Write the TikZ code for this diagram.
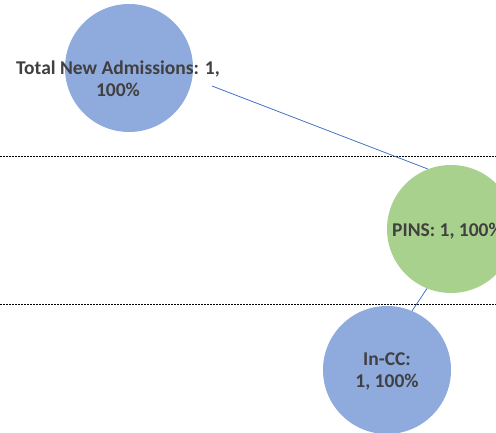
\documentclass[tikz,border=0pt]{standalone}
\usepackage{fontspec}
\setmainfont{Carlito}
\definecolor{bubbleblue}{HTML}{8FAADC}
\definecolor{bubblegreen}{HTML}{A9D18E}
\definecolor{leader}{HTML}{4472C4}
\definecolor{labeltext}{HTML}{404040}
\begin{document}
\begin{tikzpicture}[x=1pt,y=-1pt,
  bubble/.style={circle,minimum size=128pt,inner sep=0pt,draw=none},
  lbl/.style={text=labeltext,font=\fontsize{19.5}{22}\selectfont\bfseries,align=center,inner sep=0pt},
  leaderline/.style={draw=leader,line width=0.8pt},
  divider/.style={draw=black,line width=0.7pt,dash pattern=on 2pt off 1pt}]
\useasboundingbox (0,0) rectangle (496,433);
\clip (0,0) rectangle (496,433);
\coordinate (d1a) at (0,156);
\coordinate (d1b) at (496,156);
\coordinate (d2a) at (0,304);
\coordinate (d2b) at (496,304);
\draw[divider] (d1a) -- (d1b);
\draw[divider] (d2a) -- (d2b);
\node[bubble,fill=bubbleblue] (total) at (129,68) {};
\node[bubble,fill=bubblegreen] (pins) at (451,229) {};
\node[bubble,fill=bubbleblue] (incc) at (387,370) {};
\coordinate (l1a) at (212,86);
\draw[leaderline] (l1a) -- (pins.111);
\draw[leaderline] (pins.248) -- (incc.67);
\node[lbl] (totallbl) at (118,79) {Total New Admissions: 1,\\100\%};
\node[lbl,anchor=west] (pinslbl) at (392,231) {PINS: 1, 100\%};
\node[lbl] (incclbl) at (387,371) {In-CC:\\1, 100\%};
\end{tikzpicture}
\end{document}
